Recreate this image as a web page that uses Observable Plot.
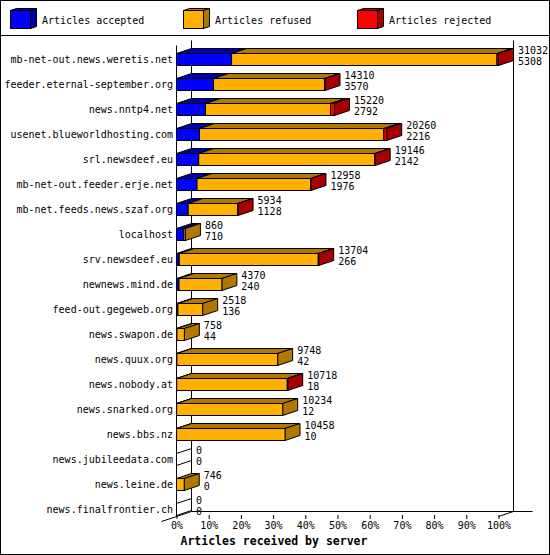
<!DOCTYPE html>
<html><head><meta charset="utf-8">
<script src="https://cdn.jsdelivr.net/npm/d3@7"></script>
<script src="https://cdn.jsdelivr.net/npm/@observablehq/plot@0.6"></script>
<style>
body{margin:0;background:#fff;}
#chart svg{display:block;}
</style></head><body><div id="chart"></div>
<script>
// ---- data ----
const hosts = ["mb-net-out.news.weretis.net","feeder.eternal-september.org","news.nntp4.net","usenet.blueworldhosting.com","srl.newsdeef.eu","mb-net-out.feeder.erje.net","mb-net.feeds.news.szaf.org","localhost","srv.newsdeef.eu","newnews.mind.de","feed-out.gegeweb.org","news.swapon.de","news.quux.org","news.nobody.at","news.snarked.org","news.bbs.nz","news.jubileedata.com","news.leine.de","news.finalfrontier.ch"];
const totals   = [31032,14310,15220,20260,19146,12958,5934,860,13704,4370,2518,758,9748,10718,10234,10458,0,746,0];
const accepted = [5308,3570,2792,2216,2142,1976,1128,710,266,240,136,44,42,18,12,10,0,0,0];
const refused  = [25574,10690,12048,17764,16964,10942,4766,150,13398,4130,2382,714,9706,10660,10222,10448,0,746,0];
const rejected = [150,50,380,280,40,40,40,0,40,0,0,0,0,40,0,0,0,0,0];
const seriesKeys  = ["accepted","refused","rejected"];
const seriesNames = ["Articles accepted","Articles refused","Articles rejected"];
const frontColors = ["#0000ff","#ffb000","#ff0000"];
const sideColors  = ["#0000a8","#b07800","#a80000"];
const xTicks = [0,10,20,30,40,50,60,70,80,90,100];
const xTitle = "Articles received by server";

// ---- derived tables ----
const maxTotal = d3.max(totals);
const pct = v => v / maxTotal * 100;
const rows = hosts.map((h, i) => ({host: h, total: totals[i], acc: accepted[i], vals: [accepted[i], refused[i], rejected[i]]}));
const segs = [];
rows.forEach(r => {
  let c = 0;
  r.vals.forEach((v, k) => {
    if (v > 0) segs.push({host: r.host, key: seriesKeys[k], k, x1: pct(c), x2: pct(c + v)});
    c += v;
  });
});

const D = 15, E = 5; // 3D depth (style)
const FONT = "'DejaVu Sans Mono', monospace";

function walls(index, scales) {
  const x = scales.x, y = scales.y, bw = y.bandwidth();
  const x0 = x(0), x1 = x(100);
  const yTop = y.range()[0];
  const yFloor = y(hosts[hosts.length - 1]) + bw + 1;
  const g = d3.create("svg:g").attr("stroke", "#000").attr("fill", "none").attr("stroke-width", 1);
  const L = (a, b, c, d) => g.append("line").attr("x1", a).attr("y1", b).attr("x2", c).attr("y2", d);
  L(x0 + D, yTop, x0 + D, yFloor - E);
  L(x1 + D, yTop, x1 + D, yFloor - E);
  L(x0, yTop + E, x0, yFloor);
  L(x0 + D, yFloor - E, x1 + D + 19, yFloor - E);
  L(x0 - D, yFloor + E, x0 + D, yFloor - E);
  L(x1, yFloor, x1 + D, yFloor - E);
  return g.node();
}

function faces(index, scales) {
  const x = scales.x, y = scales.y, bw = y.bandwidth();
  const g = d3.create("svg:g").attr("stroke", "#000").attr("stroke-width", 1);
  segs.forEach(s => {
    const yt = y(s.host), a = x(s.x1), b = x(s.x2);
    g.append("path").attr("fill", sideColors[s.k])
      .attr("d", `M${a},${yt}L${a + D},${yt - E}L${b + D},${yt - E}L${b},${yt}Z`);
  });
  rows.forEach(r => {
    const yt = y(r.host), e = x(pct(r.total));
    let last = -1;
    r.vals.forEach((v, k) => { if (v > 0) last = k; });
    g.append("path").attr("fill", last >= 0 ? sideColors[last] : "none")
      .attr("d", `M${e},${yt}L${e + D},${yt - E}L${e + D},${yt - E + bw}L${e},${yt + bw}Z`);
  });
  return g.node();
}

function legend() {
  const g = d3.create("svg:g");
  g.append("rect").attr("x", 0.5).attr("y", 0.5).attr("width", 549).attr("height", 554)
    .attr("fill", "none").attr("stroke", "#000");
  g.append("line").attr("x1", 0).attr("x2", 550).attr("y1", 35.5).attr("y2", 35.5).attr("stroke", "#000");
  const xs = [10.5, 183.5, 357.5];
  seriesNames.forEach((name, k) => {
    const a = xs[k], t = 10.5;
    const it = g.append("g").attr("stroke", "#000");
    it.append("path").attr("fill", sideColors[k]).attr("d", `M${a},${t}L${a + 6},${t - 2}L${a + 26},${t - 2}L${a + 20},${t}Z`);
    it.append("path").attr("fill", sideColors[k]).attr("d", `M${a + 20},${t}L${a + 26},${t - 2}L${a + 26},${t + 16}L${a + 20},${t + 18}Z`);
    it.append("rect").attr("fill", frontColors[k]).attr("x", a).attr("y", t).attr("width", 20).attr("height", 18);
    g.append("text").attr("x", a + 31.5).attr("y", 20).attr("dy", "0.35em")
      .attr("text-anchor", "start")
      .attr("font-family", FONT).attr("font-size", 10).attr("fill", "#000").text(name);
  });
  return g.node();
}

const chart = Plot.plot({
  width: 550,
  height: 555,
  marginLeft: 176.5,
  marginRight: 51.5,
  marginTop: 40,
  marginBottom: 40,
  style: {fontFamily: FONT, fontSize: "10px", color: "#000", background: "#fff", overflow: "visible"},
  x: {domain: [0, 100], ticks: xTicks, tickFormat: d => d + "%", tickSize: 4, tickPadding: 2, label: null},
  y: {domain: hosts, range: [40.5, 528.5], padding: 0.52, round: false, tickSize: 0, tickPadding: 4, label: null},
  color: {domain: seriesKeys, range: frontColors},
  marks: [
    legend,
    walls,
    faces,
    Plot.barX(segs, {x1: "x1", x2: "x2", y: "host", fill: "key", stroke: "#000", strokeWidth: 1, inset: 0}),
    Plot.text(rows, {x: d => pct(d.total), y: "host", text: d => String(d.total), dx: D + 4, dy: -9.5, textAnchor: "start", fill: "#000"}),
    Plot.text(rows, {x: d => pct(d.total), y: "host", text: d => String(d.acc), dx: D + 4, dy: 2, textAnchor: "start", fill: "#000"}),
    Plot.text([xTitle], {frameAnchor: "bottom-left", text: d => d, dx: 3.5, dy: 26, lineAnchor: "middle", textAnchor: "start", fontWeight: "bold", fontSize: 11.5, fill: "#000"})
  ]
});
document.getElementById("chart").appendChild(chart);
</script>
</body></html>
